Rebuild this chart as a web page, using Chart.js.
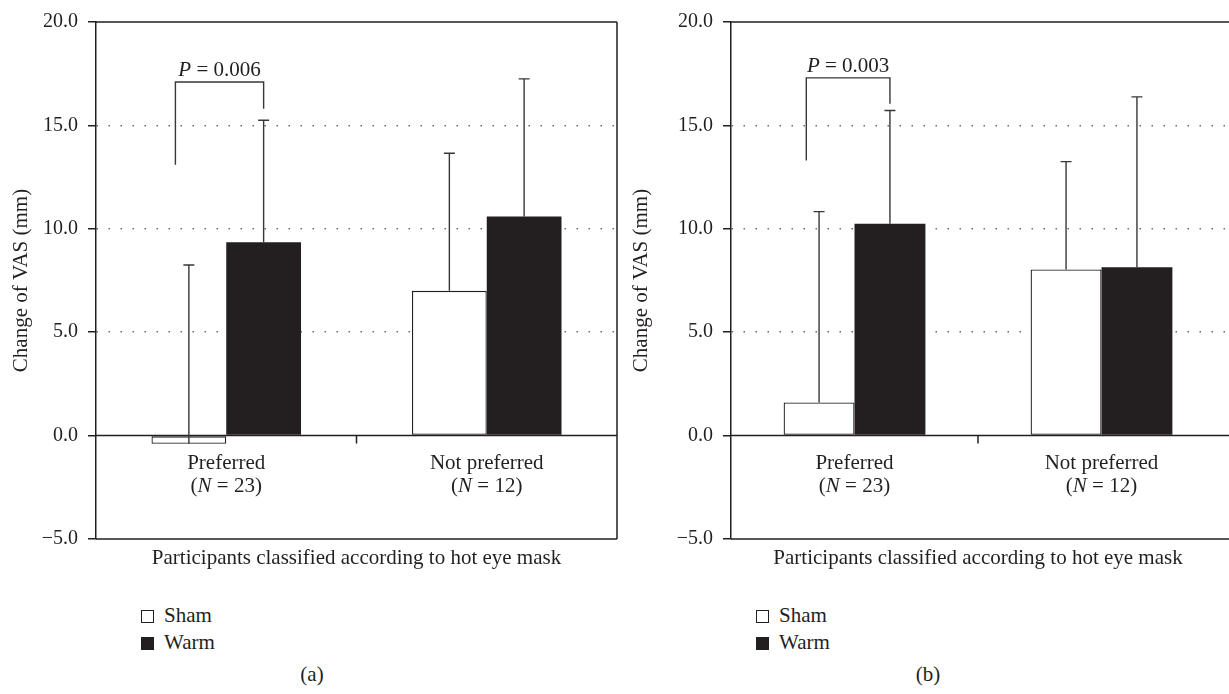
<!DOCTYPE html>
<html>
<head>
<meta charset="utf-8">
<script src="https://cdn.jsdelivr.net/npm/chart.js@4.4.0/dist/chart.umd.min.js"></script>
<style>
  body { margin: 0; background: #fff; width: 1229px; height: 694px; overflow: hidden; position: relative;
         font-family: "Liberation Serif", "Times New Roman", serif; color: #231f20; }
  .panel { position: absolute; top: 0; height: 580px; }
  #wrapA { left: 0; width: 622px; }
  #wrapB { left: 620px; width: 609px; }
  .legend { position: absolute; top: 602px; font-size: 21px; line-height: 27px; }
  .legend .box { display: inline-block; width: 13px; height: 13px; box-sizing: border-box; margin-right: 10px; vertical-align: -1px; }
  .legend .sham { border: 1.3px solid #231f20; background: #fff; }
  .legend .warm { background: #231f20; }
  .cap { position: absolute; top: 662px; font-size: 21px; width: 60px; text-align: center; }
</style>
</head>
<body>
<div class="panel" id="wrapA"><canvas id="chartA"></canvas></div>
<div class="panel" id="wrapB"><canvas id="chartB"></canvas></div>

<div class="legend" style="left:141px"><div><span class="box sham"></span>Sham</div><div><span class="box warm"></span>Warm</div></div>
<div class="legend" style="left:756px"><div><span class="box sham"></span>Sham</div><div><span class="box warm"></span>Warm</div></div>
<div class="cap" style="left:282px">(a)</div>
<div class="cap" style="left:898px">(b)</div>

<script>
// categories and group sizes
var categories = ['Preferred', 'Not preferred'];
var groupSizes = [23, 12];
var seriesNames = ['Sham', 'Warm'];
var yTicks = [-5, 0, 5, 10, 15, 20];
var xTitle = 'Participants classified according to hot eye mask';
var yTitle = 'Change of VAS (mm)';

// panel (a): means and SDs (mm)
var shamA = [-0.4, 7.0];
var shamSdA = [8.65, 6.65];
var warmA = [9.35, 10.6];
var warmSdA = [5.9, 6.65];
var pA = '0.006';
var bracketA = [13.1, 17.1, 15.8]; // left end, top, right end

// panel (b)
var shamB = [1.6, 8.03];
var shamSdB = [9.23, 5.22];
var warmB = [10.24, 8.14];
var warmSdB = [5.48, 8.24];
var pB = '0.003';
var bracketB = [13.3, 17.3, 16.05];

var INK = '#231f20';
var FONT = '"Liberation Serif", "Times New Roman", serif';
var TXT = 21;

function drawMixed(ctx, parts, cx, y) {
  var w = 0;
  parts.forEach(function (p) {
    ctx.font = (p[1] ? 'italic ' : '') + TXT + 'px ' + FONT;
    w += ctx.measureText(p[0]).width;
  });
  var x = cx - w / 2;
  ctx.textAlign = 'left';
  parts.forEach(function (p) {
    ctx.font = (p[1] ? 'italic ' : '') + TXT + 'px ' + FONT;
    ctx.fillText(p[0], x, y);
    x += ctx.measureText(p[0]).width;
  });
}

// frame, zero line, error bars, significance bracket and labels
var decor = {
  id: 'decor',
  afterDatasetsDraw: function (chart, args, opts) {
    var ctx = chart.ctx, a = chart.chartArea;
    var xs = chart.scales.x, ys = chart.scales.y;
    var y0 = ys.getPixelForValue(0);
    var rightEdge = opts.extendRight ? chart.width : a.right;
    ctx.save();
    ctx.strokeStyle = INK;
    ctx.lineWidth = 1.5;
    ctx.beginPath();
    ctx.moveTo(a.left, a.top); ctx.lineTo(rightEdge, a.top);
    ctx.moveTo(a.left, a.bottom); ctx.lineTo(rightEdge, a.bottom);
    ctx.moveTo(a.left, y0); ctx.lineTo(rightEdge, y0);
    if (!opts.extendRight) { ctx.moveTo(a.right, a.top); ctx.lineTo(a.right, a.bottom); }
    var mid = (xs.getPixelForValue(0) + xs.getPixelForValue(1)) / 2;
    ctx.moveTo(mid, y0); ctx.lineTo(mid, y0 + 8);
    ctx.stroke();

    // error bars (upper SD only)
    ctx.strokeStyle = '#3a3637';
    ctx.lineWidth = 1.4;
    chart.data.datasets.forEach(function (ds, di) {
      var meta = chart.getDatasetMeta(di);
      meta.data.forEach(function (bar, i) {
        var top = ys.getPixelForValue(ds.data[i] + ds.sd[i]);
        ctx.beginPath();
        ctx.moveTo(bar.x, bar.y); ctx.lineTo(bar.x, top);
        ctx.moveTo(bar.x - 5.5, top); ctx.lineTo(bar.x + 5.5, top);
        ctx.stroke();
      });
    });

    // significance bracket over first category
    var sb = chart.getDatasetMeta(0).data[0], wb = chart.getDatasetMeta(1).data[0];
    var xl = sb.x - 0.18 * sb.width, xr = wb.x;
    var b = opts.bracket;
    var yl = ys.getPixelForValue(b[0]), yt = ys.getPixelForValue(b[1]), yr = ys.getPixelForValue(b[2]);
    ctx.beginPath();
    ctx.moveTo(xl, yl); ctx.lineTo(xl, yt); ctx.lineTo(xr, yt); ctx.lineTo(xr, yr);
    ctx.stroke();
    ctx.fillStyle = INK;
    ctx.textBaseline = 'alphabetic';
    drawMixed(ctx, [['P', true], [' = ' + opts.p, false]], (xl + xr) / 2, yt - 6);

    // category labels
    categories.forEach(function (c, i) {
      var cx = xs.getPixelForValue(i);
      drawMixed(ctx, [[c, false]], cx, y0 + 33);
      drawMixed(ctx, [['(', false], ['N', true], [' = ' + groupSizes[i] + ')', false]], cx, y0 + 56);
    });

    // x title
    drawMixed(ctx, [[xTitle, false]], (a.left + a.right) / 2, a.bottom + 25);
    ctx.restore();
  }
};

function makeChart(id, sham, shamSd, warm, warmSd, p, bracket, axisW, padRight, extendRight) {
  return new Chart(document.getElementById(id), {
    type: 'bar',
    data: {
      labels: categories,
      datasets: [
        { label: seriesNames[0], data: sham, sd: shamSd, backgroundColor: '#fff', borderColor: INK,
          borderWidth: 1.3, borderSkipped: false },
        { label: seriesNames[1], data: warm, sd: warmSd, backgroundColor: INK, borderWidth: 0 }
      ]
    },
    options: {
      responsive: true,
      maintainAspectRatio: false,
      animation: false,
      datasets: { bar: { categoryPercentage: 0.574, barPercentage: 1 } },
      layout: { padding: { top: 19, bottom: 41, left: 0, right: padRight } },
      plugins: {
        legend: { display: false },
        tooltip: { enabled: false },
        decor: { p: p, bracket: bracket, extendRight: extendRight }
      },
      scales: {
        x: { display: false, offset: true },
        y: {
          min: -5, max: 20,
          afterBuildTicks: function (s) { s.ticks = yTicks.map(function (v) { return { value: v }; }); },
          afterFit: function (s) { s.width = axisW; },
          ticks: {
            padding: 10, color: INK, font: { family: FONT, size: 20 },
            callback: function (v) { return (v < 0 ? '\u2212' : '') + Math.abs(v).toFixed(1); }
          },
          grid: {
            color: function (c) { var v = c.tick && c.tick.value; return (v > 0 && v < 20) ? '#6d6a6b' : 'rgba(0,0,0,0)'; },
            lineWidth: 1.5, tickLength: 8, tickColor: INK, tickWidth: 1.5
          },
          border: { display: true, color: INK, width: 1.5, dash: [1.5, 10.5] },
          title: { display: true, text: yTitle, color: INK, font: { family: FONT, size: 21 }, padding: { top: 9, bottom: 0 } }
        }
      }
    },
    plugins: [decor]
  });
}

makeChart('chartA', shamA, shamSdA, warmA, warmSdA, pA, bracketA, 96, 5, false);
makeChart('chartB', shamB, shamSdB, warmB, warmSdB, pB, bracketB, 111, 4, true);
</script>
</body>
</html>
